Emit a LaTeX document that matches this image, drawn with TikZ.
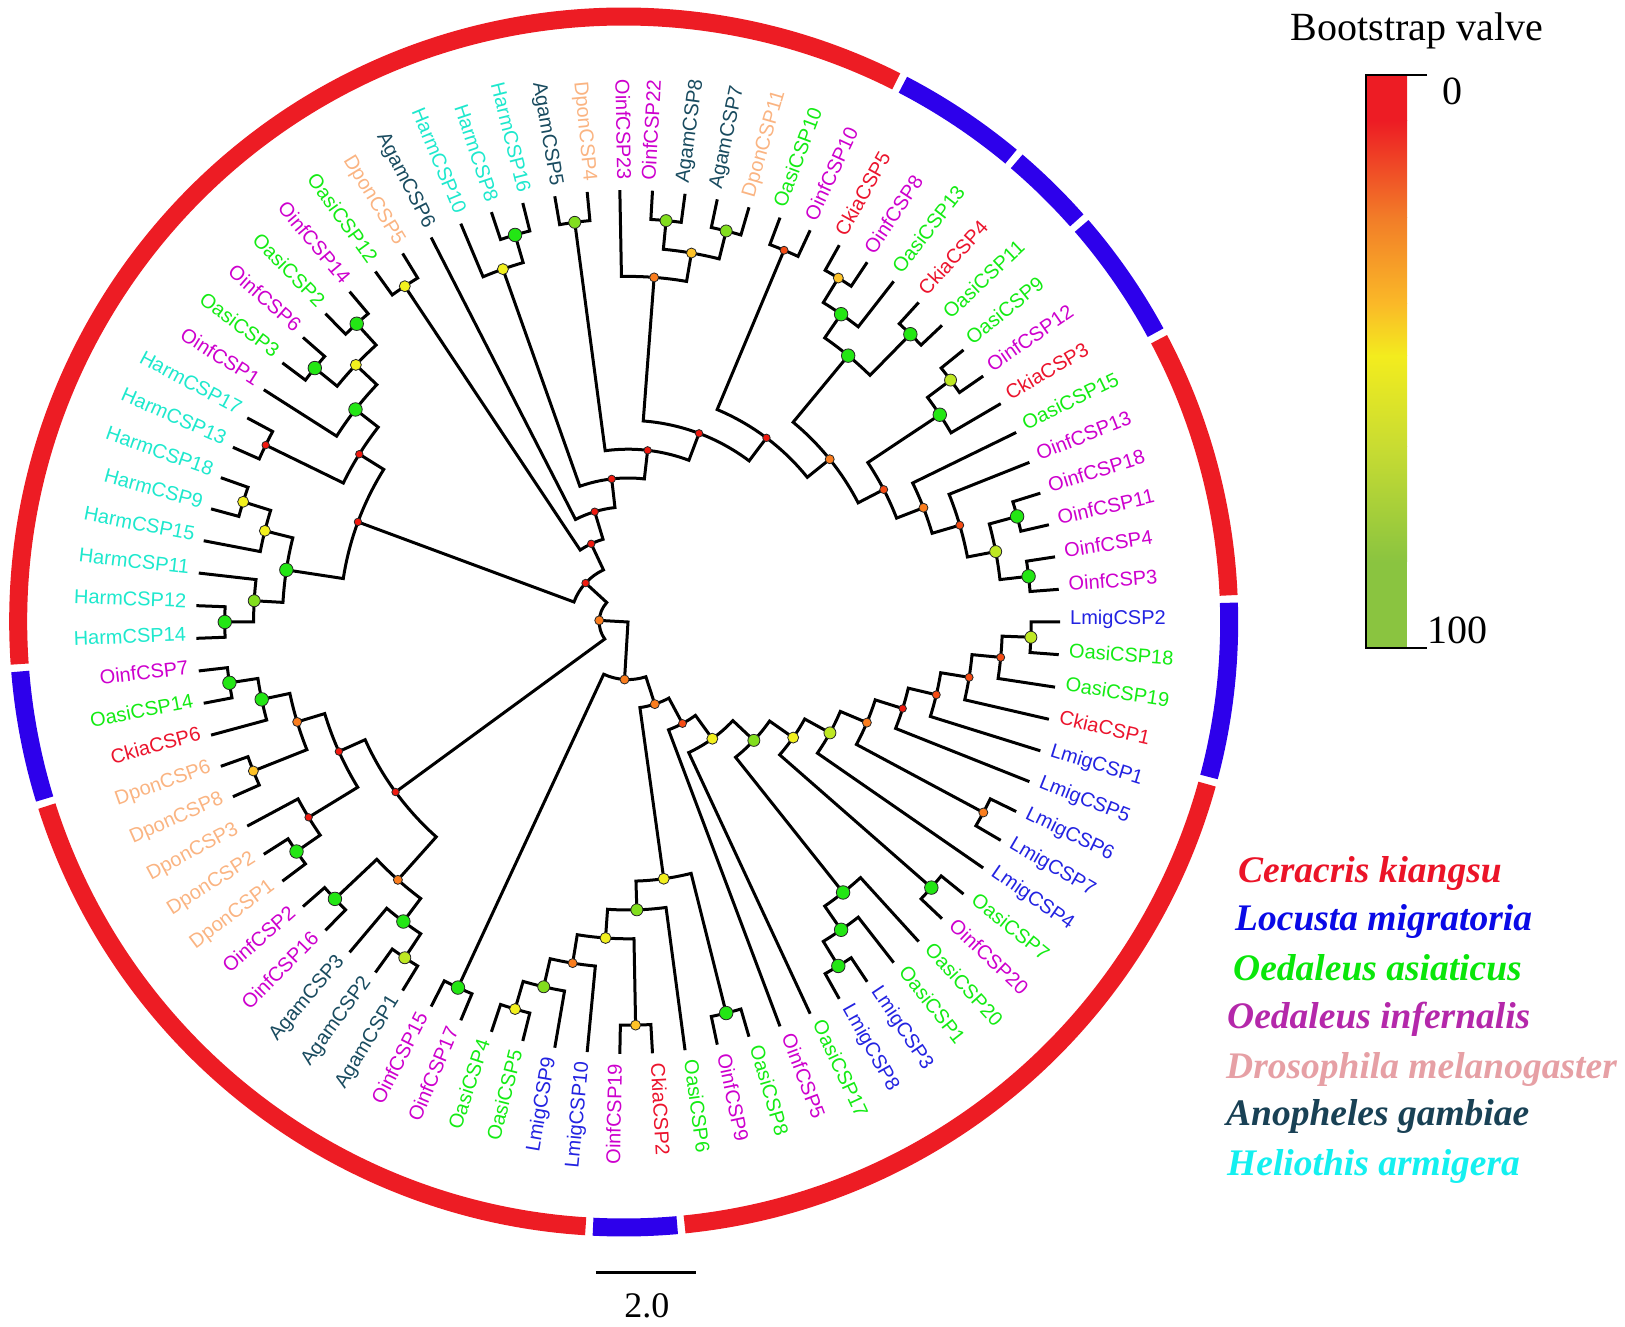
\documentclass[tikz,border=0pt]{standalone}
\usepackage{fontspec}
\setmainfont{Liberation Serif}
\newfontfamily\labfont{Liberation Sans}
\usetikzlibrary{calc}

% species colours
\definecolor{harm}{RGB}{30,232,205}
\definecolor{oinf}{RGB}{205,0,205}
\definecolor{oasi}{RGB}{20,235,20}
\definecolor{dpon}{RGB}{250,180,130}
\definecolor{agam}{RGB}{25,75,95}
\definecolor{ckia}{RGB}{235,20,45}
\definecolor{lmig}{RGB}{35,35,225}
% legend colours
\definecolor{lgCk}{RGB}{235,20,40}
\definecolor{lgLm}{RGB}{10,10,230}
\definecolor{lgOa}{RGB}{10,230,10}
\definecolor{lgOi}{RGB}{180,40,170}
\definecolor{lgDm}{RGB}{230,160,165}
\definecolor{lgAg}{RGB}{25,65,85}
\definecolor{lgHa}{RGB}{20,240,240}
% bootstrap dots
\definecolor{dotG}{RGB}{35,230,20}
\definecolor{dotL}{RGB}{130,222,30}
\definecolor{dotYL}{RGB}{190,232,35}
\definecolor{dotY}{RGB}{242,240,30}
\definecolor{dotA}{RGB}{255,195,40}
\definecolor{dotO}{RGB}{250,125,30}
\definecolor{dotRO}{RGB}{245,75,20}
\definecolor{dotR}{RGB}{240,25,15}
% ring and colour bar
\definecolor{ringred}{RGB}{237,28,36}
\definecolor{ringblue}{RGB}{45,0,235}
\definecolor{cb0}{RGB}{237,28,36}
\definecolor{cb2}{RGB}{242,125,40}
\definecolor{cb3}{RGB}{250,185,40}
\definecolor{cb4}{RGB}{243,236,30}
\definecolor{cb5}{RGB}{200,220,50}
\definecolor{cb6}{RGB}{138,196,64}

\pgfdeclarelayer{dots}
\pgfsetlayers{main,dots}

\tikzset{
  branch/.style={line width=3, line join=miter, black},
  leaflab/.style={font=\labfont\fontsize{20}{20}\selectfont, inner sep=0},
  bs/.style={circle, draw=black!85, line width=0.8, inner sep=0},
  bsG/.style={bs, fill=dotG, minimum size=13.5},
  bsL/.style={bs, fill=dotL, minimum size=12},
  bsYL/.style={bs, fill=dotYL, minimum size=12},
  bsY/.style={bs, fill=dotY, minimum size=11},
  bsA/.style={bs, fill=dotA, minimum size=10},
  bsO/.style={bs, fill=dotO, minimum size=9},
  bsRO/.style={bs, fill=dotRO, minimum size=8},
  bsR/.style={bs, fill=dotR, minimum size=7.5},
  ringseg/.style={line width=18},
  legend/.style={font=\bfseries\itshape\fontsize{37.5}{40}\selectfont, anchor=base west, inner sep=0},
  bigtext/.style={font=\fontsize{40}{42}\selectfont, inner sep=0}
}

% leaf: name, position round the circle, colour
\newcommand\leaf[3]{%
  \pgfmathsetmacro\tA{(42-#2)*360/83+360*(#2>69)}%
  \expandafter\xdef\csname ang#1\endcsname{\tA}%
  \expandafter\xdef\csname hgt#1\endcsname{0}%
  \coordinate (#1) at (\tA:432);%
  \pgfmathtruncatemacro\tF{or(\tA>90,\tA<(-90))}%
  \ifnum\tF=1
    \node[leaflab, text=#3, anchor=mid east, rotate=\tA+180] at (\tA:442) {#1};%
  \else
    \node[leaflab, text=#3, anchor=mid west, rotate=\tA] at (\tA:442) {#1};%
  \fi}

% clade: name, child, child, dot style
\newcommand\clade[4]{%
  \edef\tA{\csname ang#2\endcsname}%
  \edef\tB{\csname ang#3\endcsname}%
  \pgfmathtruncatemacro\tH{max(\csname hgt#2\endcsname,\csname hgt#3\endcsname)+1}%
  \pgfmathsetmacro\tR{28.8*(15-\tH)}%
  \pgfmathsetmacro\tM{(\tA+\tB)/2}%
  \expandafter\xdef\csname ang#1\endcsname{\tM}%
  \expandafter\xdef\csname hgt#1\endcsname{\tH}%
  \coordinate (#1) at (\tM:\tR);%
  \draw[branch] (#2) -- (\tA:\tR) arc[start angle=\tA, end angle=\tB, radius=\tR pt] -- (#3);%
  \begin{pgfonlayer}{dots}\node[#4] at (#1) {};\end{pgfonlayer}}

\begin{document}
\begin{tikzpicture}[x=1pt,y=1pt]
\useasboundingbox (-628,-705) rectangle (997,622);

% outer ring
\begin{scope}[shift={(-4.3,0)}]
\draw[ringseg, ringred] (183.987:605.5) arc[start angle=183.987, end angle=63.241, radius=605.5pt];
\draw[ringseg, ringblue] (62.541:605.5) arc[start angle=62.541, end angle=50.230, radius=605.5pt];
\draw[ringseg, ringblue] (49.530:605.5) arc[start angle=49.530, end angle=41.555, radius=605.5pt];
\draw[ringseg, ringblue] (40.855:605.5) arc[start angle=40.855, end angle=28.543, radius=605.5pt];
\draw[ringseg, ringred] (27.843:605.5) arc[start angle=27.843, end angle=2.519, radius=605.5pt];
\draw[ringseg, ringblue] (1.819:605.5) arc[start angle=1.819, end angle=-14.831, radius=605.5pt];
\draw[ringseg, ringred] (-15.531:605.5) arc[start angle=-15.531, end angle=-84.228, radius=605.5pt];
\draw[ringseg, ringblue] (-84.928:605.5) arc[start angle=-84.928, end angle=-92.903, radius=605.5pt];
\draw[ringseg, ringred] (-93.603:605.5) arc[start angle=-93.603, end angle=-162.301, radius=605.5pt];
\draw[ringseg, ringblue] (-163.001:605.5) arc[start angle=-163.001, end angle=-175.313, radius=605.5pt];
\end{scope}

% leaves
\leaf{HarmCSP14}{0}{harm}
\leaf{HarmCSP12}{1}{harm}
\leaf{HarmCSP11}{2}{harm}
\leaf{HarmCSP15}{3}{harm}
\leaf{HarmCSP9}{4}{harm}
\leaf{HarmCSP18}{5}{harm}
\leaf{HarmCSP13}{6}{harm}
\leaf{HarmCSP17}{7}{harm}
\leaf{OinfCSP1}{8}{oinf}
\leaf{OasiCSP3}{9}{oasi}
\leaf{OinfCSP6}{10}{oinf}
\leaf{OasiCSP2}{11}{oasi}
\leaf{OinfCSP14}{12}{oinf}
\leaf{OasiCSP12}{13}{oasi}
\leaf{DponCSP5}{14}{dpon}
\leaf{AgamCSP6}{15}{agam}
\leaf{HarmCSP10}{16}{harm}
\leaf{HarmCSP8}{17}{harm}
\leaf{HarmCSP16}{18}{harm}
\leaf{AgamCSP5}{19}{agam}
\leaf{DponCSP4}{20}{dpon}
\leaf{OinfCSP23}{21}{oinf}
\leaf{OinfCSP22}{22}{oinf}
\leaf{AgamCSP8}{23}{agam}
\leaf{AgamCSP7}{24}{agam}
\leaf{DponCSP11}{25}{dpon}
\leaf{OasiCSP10}{26}{oasi}
\leaf{OinfCSP10}{27}{oinf}
\leaf{CkiaCSP5}{28}{ckia}
\leaf{OinfCSP8}{29}{oinf}
\leaf{OasiCSP13}{30}{oasi}
\leaf{CkiaCSP4}{31}{ckia}
\leaf{OasiCSP11}{32}{oasi}
\leaf{OasiCSP9}{33}{oasi}
\leaf{OinfCSP12}{34}{oinf}
\leaf{CkiaCSP3}{35}{ckia}
\leaf{OasiCSP15}{36}{oasi}
\leaf{OinfCSP13}{37}{oinf}
\leaf{OinfCSP18}{38}{oinf}
\leaf{OinfCSP11}{39}{oinf}
\leaf{OinfCSP4}{40}{oinf}
\leaf{OinfCSP3}{41}{oinf}
\leaf{LmigCSP2}{42}{lmig}
\leaf{OasiCSP18}{43}{oasi}
\leaf{OasiCSP19}{44}{oasi}
\leaf{CkiaCSP1}{45}{ckia}
\leaf{LmigCSP1}{46}{lmig}
\leaf{LmigCSP5}{47}{lmig}
\leaf{LmigCSP6}{48}{lmig}
\leaf{LmigCSP7}{49}{lmig}
\leaf{LmigCSP4}{50}{lmig}
\leaf{OasiCSP7}{51}{oasi}
\leaf{OinfCSP20}{52}{oinf}
\leaf{OasiCSP20}{53}{oasi}
\leaf{OasiCSP1}{54}{oasi}
\leaf{LmigCSP3}{55}{lmig}
\leaf{LmigCSP8}{56}{lmig}
\leaf{OasiCSP17}{57}{oasi}
\leaf{OinfCSP5}{58}{oinf}
\leaf{OasiCSP8}{59}{oasi}
\leaf{OinfCSP9}{60}{oinf}
\leaf{OasiCSP6}{61}{oasi}
\leaf{CkiaCSP2}{62}{ckia}
\leaf{OinfCSP19}{63}{oinf}
\leaf{LmigCSP10}{64}{lmig}
\leaf{LmigCSP9}{65}{lmig}
\leaf{OasiCSP5}{66}{oasi}
\leaf{OasiCSP4}{67}{oasi}
\leaf{OinfCSP17}{68}{oinf}
\leaf{OinfCSP15}{69}{oinf}
\leaf{AgamCSP1}{70}{agam}
\leaf{AgamCSP2}{71}{agam}
\leaf{AgamCSP3}{72}{agam}
\leaf{OinfCSP16}{73}{oinf}
\leaf{OinfCSP2}{74}{oinf}
\leaf{DponCSP1}{75}{dpon}
\leaf{DponCSP2}{76}{dpon}
\leaf{DponCSP3}{77}{dpon}
\leaf{DponCSP8}{78}{dpon}
\leaf{DponCSP6}{79}{dpon}
\leaf{CkiaCSP6}{80}{ckia}
\leaf{OasiCSP14}{81}{oasi}
\leaf{OinfCSP7}{82}{oinf}

% Harm clade
\clade{h1}{HarmCSP14}{HarmCSP12}{bsG}
\clade{h2}{HarmCSP11}{h1}{bsL}
\clade{h3}{HarmCSP9}{HarmCSP18}{bsY}
\clade{h4}{HarmCSP15}{h3}{bsY}
\clade{h5}{h2}{h4}{bsG}
\clade{h6}{HarmCSP13}{HarmCSP17}{bsR}
\clade{h7}{OasiCSP3}{OinfCSP6}{bsG}
\clade{h8}{OasiCSP2}{OinfCSP14}{bsG}
\clade{h9}{h7}{h8}{bsY}
\clade{h10}{OinfCSP1}{h9}{bsG}
\clade{h11}{h6}{h10}{bsR}
\clade{h12}{h5}{h11}{bsR}
% top
\clade{t1}{OasiCSP12}{DponCSP5}{bsY}
\clade{t2}{HarmCSP8}{HarmCSP16}{bsG}
\clade{t3}{HarmCSP10}{t2}{bsY}
\clade{t4}{AgamCSP5}{DponCSP4}{bsL}
\clade{t5}{OinfCSP22}{AgamCSP8}{bsL}
\clade{t6}{AgamCSP7}{DponCSP11}{bsL}
\clade{t7}{t5}{t6}{bsA}
\clade{t8}{OinfCSP23}{t7}{bsO}
\clade{t9}{OasiCSP10}{OinfCSP10}{bsRO}
% upper right
\clade{r1}{CkiaCSP5}{OinfCSP8}{bsA}
\clade{r2}{r1}{OasiCSP13}{bsG}
\clade{r3}{CkiaCSP4}{OasiCSP11}{bsG}
\clade{r4}{r2}{r3}{bsG}
\clade{r5}{OasiCSP9}{OinfCSP12}{bsYL}
\clade{r6}{r5}{CkiaCSP3}{bsG}
\clade{r7}{OinfCSP18}{OinfCSP11}{bsG}
\clade{r8}{OinfCSP4}{OinfCSP3}{bsG}
\clade{r9}{r7}{r8}{bsYL}
\clade{r10}{OinfCSP13}{r9}{bsRO}
\clade{r11}{OasiCSP15}{r10}{bsO}
\clade{r12}{r6}{r11}{bsRO}
% backbone, upper half
\clade{A8}{r4}{r12}{bsO}
\clade{A7}{t9}{A8}{bsR}
\clade{A6}{t8}{A7}{bsR}
\clade{A5}{t4}{A6}{bsR}
\clade{A4}{t3}{A5}{bsR}
\clade{A3}{AgamCSP6}{A4}{bsR}
\clade{A2}{t1}{A3}{bsR}
\clade{A1}{h12}{A2}{bsR}
% lower right
\clade{l1}{LmigCSP2}{OasiCSP18}{bsYL}
\clade{l2}{l1}{OasiCSP19}{bsRO}
\clade{l3}{l2}{CkiaCSP1}{bsRO}
\clade{l4}{l3}{LmigCSP1}{bsRO}
\clade{l5}{l4}{LmigCSP5}{bsR}
\clade{l6}{LmigCSP6}{LmigCSP7}{bsO}
\clade{l7}{l5}{l6}{bsO}
\clade{l8}{l7}{LmigCSP4}{bsYL}
\clade{l9}{OasiCSP7}{OinfCSP20}{bsG}
\clade{B5}{l8}{l9}{bsY}
\clade{l10}{LmigCSP3}{LmigCSP8}{bsG}
\clade{l11}{OasiCSP1}{l10}{bsG}
\clade{l12}{OasiCSP20}{l11}{bsG}
\clade{B4}{B5}{l12}{bsL}
\clade{B3}{B4}{OasiCSP17}{bsY}
\clade{B2}{B3}{OinfCSP5}{bsRO}
% bottom
\clade{b1}{OasiCSP8}{OinfCSP9}{bsG}
\clade{b2}{CkiaCSP2}{OinfCSP19}{bsA}
\clade{b3}{OasiCSP5}{OasiCSP4}{bsY}
\clade{b4}{LmigCSP9}{b3}{bsL}
\clade{b5}{LmigCSP10}{b4}{bsO}
\clade{b6}{b2}{b5}{bsY}
\clade{b7}{OasiCSP6}{b6}{bsL}
\clade{b8}{b1}{b7}{bsY}
\clade{B1}{B2}{b8}{bsO}
\clade{b9}{OinfCSP17}{OinfCSP15}{bsG}
\clade{S}{b9}{B1}{bsO}
% lower left
\clade{c1}{AgamCSP1}{AgamCSP2}{bsYL}
\clade{c2}{AgamCSP3}{c1}{bsG}
\clade{c3}{OinfCSP16}{OinfCSP2}{bsG}
\clade{c4}{c2}{c3}{bsO}
\clade{c5}{DponCSP1}{DponCSP2}{bsG}
\clade{c6}{c5}{DponCSP3}{bsR}
\clade{c7}{DponCSP8}{DponCSP6}{bsA}
\clade{c8}{OasiCSP14}{OinfCSP7}{bsG}
\clade{c9}{CkiaCSP6}{c8}{bsG}
\clade{c10}{c7}{c9}{bsO}
\clade{c11}{c6}{c10}{bsR}
\clade{C}{c4}{c11}{bsR}
\clade{N}{A1}{C}{bsO}
\coordinate (root) at (0,0);
\draw[branch] (N) -- (root) -- (S);

% legend
\node[legend, text=lgCk] (lgCk) at (610,-260) {Ceracris kiangsu};
\node[legend, text=lgLm] (lgLm) at (607,-308) {Locusta migratoria};
\node[legend, text=lgOa] (lgOa) at (605,-358) {Oedaleus asiaticus};
\node[legend, text=lgOi] (lgOi) at (599,-406) {Oedaleus infernalis};
\node[legend, text=lgDm] (lgDm) at (598,-456) {Drosophila melanogaster};
\node[legend, text=lgAg] (lgAg) at (598,-503) {Anopheles gambiae};
\node[legend, text=lgHa] (lgHa) at (599,-553) {Heliothis armigera};

% colour bar
\node[bigtext] (bstitle) at (789,591) {Bootstrap valve};
\fill[top color=cb0, bottom color=cb0] (738,547) rectangle (779,501);
\fill[top color=cb0, bottom color=cb2] (738,501) rectangle (779,404);
\fill[top color=cb2, bottom color=cb3] (738,404) rectangle (779,318);
\fill[top color=cb3, bottom color=cb4] (738,318) rectangle (779,266);
\fill[top color=cb4, bottom color=cb5] (738,266) rectangle (779,175);
\fill[top color=cb5, bottom color=cb6] (738,175) rectangle (779,60);
\fill[cb6] (738,60) rectangle (779,-26);
\coordinate (barTop) at (799,547);
\coordinate (barBot) at (799,-26);
\draw[line width=2] (barTop) -- (738,547) -- (738,-26) -- (barBot);
\node[bigtext] (bs0) at (824,531) {0};
\node[bigtext] (bs100) at (829,-8) {100};

% scale bar
\coordinate (sbL) at (-32,-650);
\coordinate (sbR) at (68,-650);
\draw[line width=3] (sbL) -- (sbR);
\node[font=\fontsize{36}{38}\selectfont, inner sep=0] (sblab) at (19,-684) {2.0};
\end{tikzpicture}
\end{document}
